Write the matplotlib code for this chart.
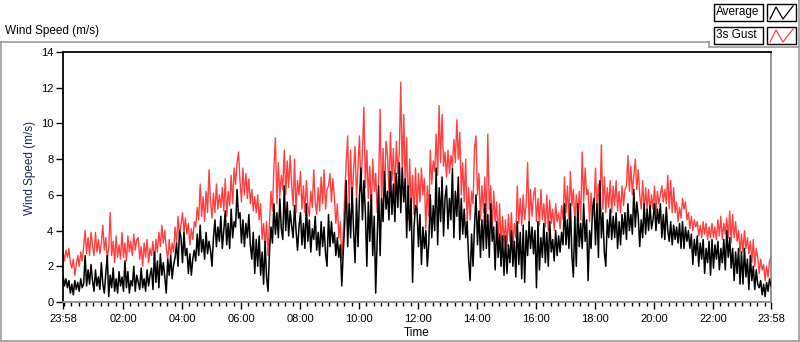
import matplotlib
matplotlib.use("Agg")
import matplotlib.pyplot as plt
from matplotlib.lines import Line2D
from matplotlib.patches import Rectangle
import numpy as np

plt.rcParams['font.family'] = ['Liberation Sans', 'DejaVu Sans']

# ---------------- data (one per 3 minutes from 23:58) -------------
step_minutes = 3
gust_3s = [
    2.8, 2.3, 2.9, 2.5, 3.0, 2.2, 1.9, 2.4, 1.5, 2.1, 2.6, 2.0, 2.8, 2.3, 3.1, 4.0, 2.7, 3.6, 2.6, 3.9,
    3.2, 2.6, 3.9, 2.8, 3.5, 2.7, 3.3, 4.3, 2.9, 3.6, 2.4, 3.1, 5.0, 2.6, 3.4, 2.2, 3.7, 2.5, 3.2, 2.4,
    3.9, 2.5, 3.3, 2.3, 3.7, 2.8, 3.4, 2.6, 3.8, 2.9, 3.5, 3.6, 2.4, 3.1, 2.0, 3.3, 2.5, 3.5, 2.2, 3.0,
    2.6, 3.4, 2.1, 3.5, 2.8, 3.9, 3.1, 4.3, 3.3, 4.0, 3.0, 2.4, 3.5, 2.6, 3.3, 2.8, 4.2, 3.3, 4.8, 3.7,
    4.3, 5.0, 3.9, 4.7, 3.8, 4.4, 3.2, 4.1, 3.5, 4.5, 4.2, 5.3, 4.6, 6.6, 4.8, 5.9, 4.5, 6.2, 5.0, 7.4,
    5.6, 4.7, 6.1, 5.0, 6.6, 5.2, 6.0, 5.3, 6.4, 5.1, 6.9, 4.8, 6.2, 5.4, 7.1, 5.5, 7.5, 6.6, 7.8, 8.4,
    6.8, 5.6, 7.5, 6.0, 7.2, 5.8, 6.9, 5.5, 6.3, 5.1, 5.9, 5.0, 6.0, 4.6, 5.5, 3.5, 4.4, 3.2, 4.5, 2.6,
    4.5, 6.2, 5.1, 7.6, 9.2, 5.5, 7.8, 5.9, 7.1, 6.3, 8.5, 6.0, 7.9, 6.4, 8.2, 6.6, 5.4, 8.0, 5.0, 6.8,
    6.0, 7.3, 5.2, 6.5, 5.0, 6.8, 5.4, 4.8, 6.2, 5.3, 7.4, 5.6, 4.9, 6.4, 5.1, 7.0, 5.5, 7.4, 5.2, 6.3,
    6.5, 7.2, 5.6, 6.9, 5.8, 4.4, 5.5, 3.6, 4.5, 2.4, 3.8, 6.0, 7.8, 9.3, 5.3, 8.5, 5.6, 7.4, 8.7, 5.8,
    7.5, 9.3, 6.2, 8.4, 10.9, 6.4, 8.5, 5.8, 7.6, 5.1, 8.0, 6.2, 7.2, 5.0, 6.8, 10.8, 5.4, 8.6, 6.0, 9.0,
    8.2, 6.1, 9.5, 6.8, 8.6, 6.0, 9.0, 7.2, 8.4, 12.3, 7.0, 10.5, 6.6, 9.2, 4.6, 8.0, 5.2, 7.1, 4.9, 7.5,
    5.0, 7.2, 5.6, 7.5, 6.0, 6.9, 4.1, 6.5, 4.8, 8.5, 6.6, 7.9, 7.3, 9.4, 7.1, 11.0, 7.8, 10.5, 7.6, 8.4,
    7.0, 8.5, 7.2, 8.2, 7.6, 9.1, 7.8, 10.2, 8.0, 9.5, 6.0, 7.8, 5.6, 8.0, 4.4, 6.4, 4.6, 6.2, 5.5, 8.6,
    9.3, 6.0, 7.2, 4.6, 6.5, 5.0, 7.0, 4.5, 9.4, 5.2, 6.5, 4.0, 6.2, 4.5, 5.6, 3.2, 5.5, 3.0, 4.8, 3.3,
    4.6, 3.1, 4.9, 3.4, 5.0, 3.0, 4.4, 3.6, 6.5, 4.4, 5.8, 4.3, 6.0, 4.6, 5.5, 7.8, 4.4, 6.3, 4.8, 6.0,
    6.4, 4.5, 5.8, 4.3, 6.3, 4.6, 5.5, 4.2, 6.0, 4.0, 5.7, 4.4, 5.2, 4.0, 5.5, 4.5, 5.0, 4.1, 5.4, 4.6,
    7.0, 5.0, 6.5, 4.6, 7.3, 5.4, 6.3, 4.5, 6.0, 4.8, 6.2, 4.6, 8.4, 5.6, 7.5, 6.0, 6.3, 4.5, 6.1, 4.7,
    5.2, 7.5, 5.0, 6.6, 5.5, 8.8, 5.2, 7.0, 5.0, 6.4, 5.3, 6.8, 5.0, 6.5, 5.4, 6.8, 5.1, 6.2, 5.0, 6.5,
    5.4, 6.3, 6.5, 8.2, 6.2, 7.6, 6.0, 7.1, 8.0, 6.3, 7.4, 6.0, 5.2, 6.8, 5.0, 6.4, 5.2, 6.3, 5.0, 6.0,
    5.2, 6.5, 5.0, 6.2, 5.5, 6.0, 6.5, 5.6, 6.3, 5.5, 7.1, 5.2, 6.8, 5.0, 6.4, 5.0, 5.6, 4.5, 5.3, 4.7,
    5.8, 5.2, 5.6, 4.6, 5.0, 4.1, 4.8, 4.0, 4.6, 4.2, 4.5, 3.7, 4.3, 3.6, 4.5, 3.8, 4.4, 3.5, 4.2, 3.6,
    4.4, 3.6, 4.2, 3.5, 4.6, 3.7, 4.8, 3.5, 4.4, 3.8, 4.7, 3.6, 5.1, 3.3, 4.9, 3.6, 4.5, 3.4, 4.0, 2.8,
    3.8, 2.8, 4.0, 3.0, 3.6, 2.7, 3.4, 2.2, 3.5, 2.0, 3.0, 2.5, 1.6, 2.4, 1.8, 2.1, 1.2, 2.0, 1.4, 2.3,
    2.5,
]
average = [
    1.5, 0.9, 1.3, 0.8, 1.2, 0.5, 1.0, 0.4, 1.2, 0.7, 1.1, 0.6, 1.3, 0.8, 1.0, 2.6, 0.9, 1.8, 1.0, 2.1,
    1.2, 0.6, 1.8, 0.9, 1.4, 0.7, 2.2, 1.0, 0.5, 1.6, 2.6, 0.3, 1.5, 0.8, 1.9, 0.6, 1.3, 0.5, 1.7, 0.9,
    1.4, 0.6, 2.3, 0.8, 1.7, 0.5, 1.2, 0.9, 2.0, 0.6, 1.5, 1.1, 0.7, 1.9, 0.8, 1.3, 0.6, 1.8, 0.9, 1.5,
    1.9, 0.7, 2.8, 1.1, 2.3, 0.8, 2.7, 1.5, 2.2, 1.4, 0.5, 2.4, 1.5, 2.6, 1.3, 2.1, 2.5, 3.3, 2.0, 4.0,
    3.6, 2.2, 3.9, 2.6, 3.0, 1.6, 2.7, 1.5, 2.4, 2.9, 2.3, 3.8, 2.6, 4.3, 2.8, 3.5, 2.4, 3.9, 2.7, 3.4,
    2.9, 2.0, 3.6, 4.6, 3.1, 4.2, 3.4, 4.8, 3.0, 4.0, 5.1, 3.2, 4.4, 3.0, 5.2, 3.6, 4.5, 4.2, 6.3, 4.7,
    5.0, 3.3, 4.6, 3.1, 4.4, 3.6, 4.9, 3.2, 2.4, 3.9, 1.6, 3.5, 2.0, 3.7, 1.5, 2.8, 1.0, 3.4, 1.4, 0.6,
    2.8, 4.2, 3.3, 5.5, 3.8, 5.0, 3.6, 5.8, 4.1, 3.5, 6.5, 4.0, 5.6, 3.7, 5.1, 4.3, 3.6, 5.4, 4.0, 2.9,
    4.2, 5.0, 3.2, 4.4, 3.0, 5.5, 3.4, 4.6, 2.8, 4.1, 3.5, 4.8, 2.9, 3.9, 2.6, 4.5, 3.1, 4.2, 2.7, 2.0,
    4.9, 3.1, 4.5, 3.3, 3.9, 2.6, 3.6, 2.5, 3.2, 0.9, 2.8, 4.4, 6.8, 3.1, 5.5, 3.6, 6.4, 4.0, 2.2, 5.8,
    3.1, 5.9, 7.5, 4.6, 6.8, 5.0, 2.0, 5.6, 3.4, 6.0, 2.6, 4.8, 0.5, 3.5, 6.5, 2.6, 5.8, 4.5, 7.3, 5.2,
    6.2, 4.6, 7.3, 4.9, 6.6, 4.5, 7.2, 5.3, 7.8, 5.0, 7.5, 5.6, 6.9, 3.6, 6.5, 4.0, 5.8, 1.1, 4.2, 5.4,
    5.2, 3.1, 4.9, 2.1, 4.2, 3.0, 4.0, 2.0, 3.3, 6.0, 3.6, 5.4, 4.0, 7.5, 3.2, 6.4, 4.5, 7.0, 3.7, 5.8,
    6.5, 4.1, 5.8, 4.6, 7.5, 3.6, 6.2, 4.8, 7.0, 3.5, 5.8, 3.8, 5.2, 3.6, 4.5, 2.4, 1.2, 3.8, 2.0, 4.3,
    6.0, 3.2, 5.1, 2.5, 4.6, 2.9, 5.5, 3.0, 4.9, 2.5, 5.5, 3.4, 4.2, 1.8, 4.5, 2.5, 3.8, 2.0, 3.7, 1.5,
    3.7, 1.6, 3.2, 2.2, 4.0, 2.0, 3.4, 1.4, 4.5, 2.1, 3.9, 1.3, 4.3, 1.1, 4.0, 2.6, 4.5, 3.0, 4.2, 2.7,
    4.0, 0.8, 4.5, 1.8, 3.6, 2.5, 4.4, 2.2, 3.9, 2.0, 4.5, 2.8, 3.5, 2.3, 4.0, 2.6, 3.7, 2.8, 3.9, 3.2,
    5.5, 3.2, 4.6, 3.0, 5.5, 2.6, 1.4, 4.8, 2.0, 5.5, 3.1, 4.4, 3.0, 5.5, 3.4, 4.6, 1.2, 4.0, 3.0, 5.2,
    5.8, 3.2, 5.5, 2.5, 6.8, 3.6, 5.0, 2.8, 2.0, 4.6, 3.6, 5.2, 3.5, 4.8, 3.6, 5.0, 3.0, 4.5, 3.2, 4.9,
    3.8, 5.0, 3.5, 5.5, 4.0, 4.9, 3.8, 6.3, 4.2, 5.6, 4.8, 3.1, 4.6, 3.6, 5.5, 3.8, 5.2, 4.0, 5.4, 4.1,
    4.6, 5.5, 4.0, 5.2, 4.4, 5.5, 3.6, 4.9, 3.5, 5.3, 4.0, 3.4, 4.5, 3.2, 4.3, 3.5, 4.2, 3.3, 4.4, 3.0,
    4.5, 3.0, 4.2, 3.4, 4.0, 3.0, 3.8, 2.1, 3.5, 2.6, 3.7, 2.0, 3.3, 2.4, 3.5, 1.6, 3.0, 2.2, 3.4, 1.5,
    3.5, 1.9, 3.2, 2.4, 3.4, 1.8, 3.0, 2.2, 3.5, 1.8, 4.0, 2.5, 3.6, 1.9, 3.0, 1.2, 2.8, 1.6, 3.0, 1.0,
    2.8, 1.0, 3.0, 1.4, 2.4, 0.7, 2.6, 1.2, 2.0, 0.7, 1.8, 1.0, 0.8, 1.2, 0.4, 1.0, 0.3, 1.1, 0.6, 1.3,
    0.9,
]
x_tick_labels = ['23:58', '02:00', '04:00', '06:00', '08:00', '10:00', '12:00',
                 '14:00', '16:00', '18:00', '20:00', '22:00', '23:58']
y_ticks = [0, 2, 4, 6, 8, 10, 12, 14]
series_names = ['Average', '3s Gust']

# ---------------- figure ----------------
W, H = 800, 342
fig = plt.figure(figsize=(W / 100, H / 100), dpi=100)
fig.patch.set_facecolor('white')


def fx(x):
    return x / W


def fy(y):
    return 1 - y / H


ax = fig.add_axes([fx(63), fy(302), (771 - 63) / W, 250 / H])

hours_g = np.arange(len(gust_3s)) * step_minutes / 60.0
hours_a = np.arange(len(average)) * step_minutes / 60.0
ax.plot(hours_g, gust_3s, color='#ff4040', lw=1.0, zorder=2)
ax.plot(hours_a, average, color='black', lw=1.1, zorder=3)

ax.set_xlim(0, 24)
ax.set_ylim(0, 14)

# ticks: first and last at 23:58, others on the even hours
start_offset = 2 / 60.0
xt = [0] + [start_offset + 2 * k for k in range(1, 12)] + [24]
ax.set_xticks(xt)
ax.set_xticklabels(x_tick_labels)
ax.set_xticks([start_offset + 0.25 * k for k in range(0, 96)
               if (start_offset + 0.25 * k) < 24], minor=True)
ax.set_yticks(y_ticks)
ax.set_yticklabels([str(v) for v in y_ticks])

ax.tick_params(axis='x', which='major', direction='out', length=5, width=1,
               labelsize=8, color='black', labelcolor='black', pad=4)
ax.tick_params(axis='y', which='major', direction='out', length=5, width=1,
               labelsize=8, color='black', labelcolor='black', pad=2)
ax.tick_params(axis='x', which='minor', direction='out', length=3, width=1, color='black')

ax.set_xlabel('Time', fontsize=8.5)
ax.xaxis.set_label_coords(0.5, -(327 - 302) / 250)
ax.set_ylabel('Wind Speed (m/s)', fontsize=8.5, color='#1c2850')
ax.yaxis.set_label_coords(-(63 - 36) / 708, 0.535)

for s in ['left', 'top']:
    ax.spines[s].set_color('black')
    ax.spines[s].set_linewidth(1.3)
for s in ['right', 'bottom']:
    ax.spines[s].set_color('#8c8c8c')
    ax.spines[s].set_linewidth(1.3)

# ---------------- outer panel frame ----------------
gray = '#9a9a9a'


def fline(xs, ys, color=gray, lw=1.2):
    fig.add_artist(Line2D([fx(v) for v in xs], [fy(v) for v in ys],
                          transform=fig.transFigure, color=color, lw=lw))


fline([0, 709], [42, 42])
fline([0.6, 0.6], [42, 341])
fline([0, 800], [340.5, 340.5])
fline([798.5, 798.5], [0, 341])
fline([709, 709], [42, 47])
fline([709, 800], [47, 47])

fig.text(fx(5), fy(31), 'Wind Speed (m/s)', fontsize=8.5, ha='left', va='center')

# ---------------- legend ----------------
rows = [(4, 'black'), (27, '#ff4040')]
for (top, col), name in zip(rows, series_names):
    fig.add_artist(Rectangle((fx(714), fy(top + 17)), 49 / W, 17 / H,
                             transform=fig.transFigure, fill=False,
                             edgecolor='black', lw=1.0))
    fig.text(fx(716), fy(top + 8.5), name, fontsize=8.5, ha='left', va='center')
    fig.add_artist(Rectangle((fx(767), fy(top + 17)), 29 / W, 17 / H,
                             transform=fig.transFigure, fill=False,
                             edgecolor='black', lw=1.0))
    zx = [770, 776, 783, 793]
    zy = [top + 15, top + 3, top + 15, top + 2]
    fig.add_artist(Line2D([fx(v) for v in zx], [fy(v) for v in zy],
                          transform=fig.transFigure, color=col, lw=0.9))

fig.savefig('out.png', dpi=100, facecolor='white')
